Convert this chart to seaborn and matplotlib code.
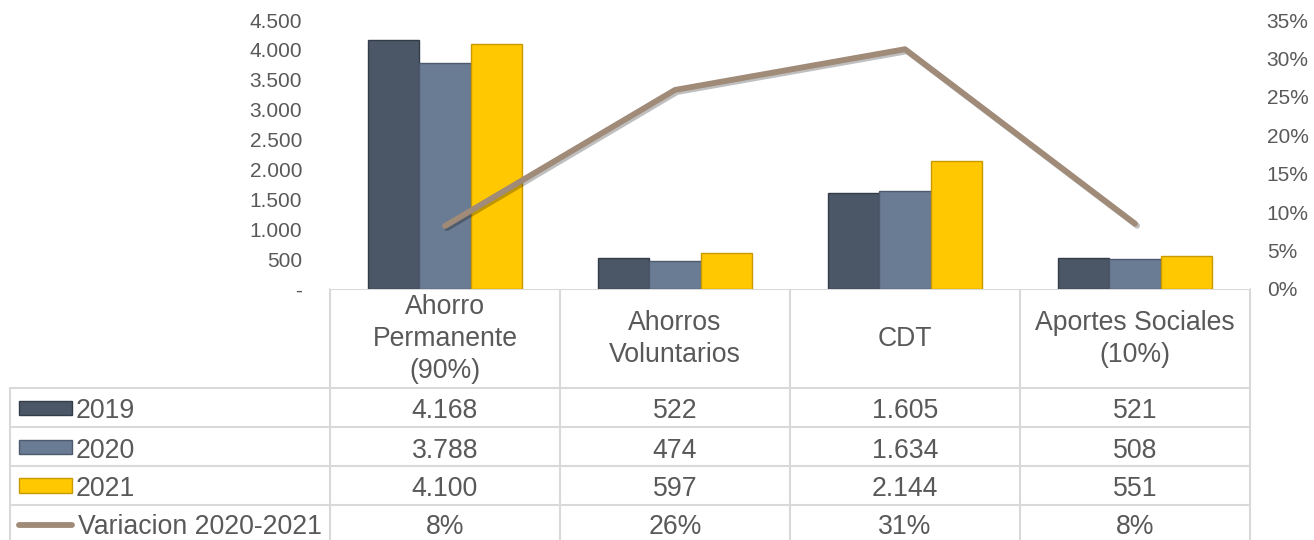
import numpy as np
import pandas as pd
import matplotlib
matplotlib.use("Agg")
import matplotlib.pyplot as plt
import matplotlib.patheffects as pe
from matplotlib.lines import Line2D
from matplotlib.patches import Rectangle
from matplotlib.ticker import FuncFormatter
import seaborn as sns

# ---- data ----
categories = ["Ahorro\nPermanente\n(90%)", "Ahorros\nVoluntarios", "CDT", "Aportes Sociales\n(10%)"]
years = ["2019", "2020", "2021"]
v2019 = [4168, 522, 1605, 521]
v2020 = [3788, 474, 1634, 508]
v2021 = [4100, 597, 2144, 551]
variation = [0.082, 0.259, 0.312, 0.085]
variation_labels = ["8%", "26%", "31%", "8%"]
variation_name = "Variacion 2020-2021"
left_ticks = [0, 500, 1000, 1500, 2000, 2500, 3000, 3500, 4000, 4500]
right_ticks = [0, 0.05, 0.10, 0.15, 0.20, 0.25, 0.30, 0.35]

colors = {"2019": "#4b5767", "2020": "#6a7b94", "2021": "#ffc800"}
edge_colors = {"2019": "#333c48", "2020": "#4d5a6d", "2021": "#c99a00"}
line_color = "#a08a78"
text_color = "#595959"
grid_color = "#d9d9d9"

sns.set_style("white")
plt.rcParams["font.family"] = ["Liberation Sans", "DejaVu Sans"]

W, H = 1314, 540
fig = plt.figure(figsize=(W / 100, H / 100), dpi=100)

def fx(x):
    return x / W

def fy(y):
    return 1 - y / H

# plot area in pixels
PL, PR, PT, PB = 330, 1250, 20, 289
ax = fig.add_axes([fx(PL), fy(PB), fx(PR) - fx(PL), fy(PT) - fy(PB)])

df = pd.DataFrame({
    "cat": categories * 3,
    "year": [y for y in years for _ in categories],
    "value": v2019 + v2020 + v2021,
})
sns.barplot(data=df, x="cat", y="value", hue="year", hue_order=years,
            palette=colors, width=0.67, ax=ax, legend=False, saturation=1)
for year, container in zip(years, ax.containers):
    for bar in container:
        bar.set_edgecolor(edge_colors[year])
        bar.set_linewidth(1.0)

ax.set_xlim(-0.5, len(categories) - 0.5)
ax.set_ylim(0, 4500)
ax.set_yticks(left_ticks)
ax.yaxis.set_major_formatter(FuncFormatter(
    lambda v, p: "-" if v == 0 else f"{int(v):,}".replace(",", ".")))
ax.set_xticks([])
ax.set_xlabel("")
ax.set_ylabel("")
for s in ax.spines.values():
    s.set_visible(False)
ax.tick_params(axis="y", length=0, pad=20, labelsize=15, labelcolor=text_color)

ax2 = ax.twinx()
sns.lineplot(x=np.arange(len(categories)), y=variation, ax=ax2, color=line_color,
             linewidth=4.2, solid_capstyle="round",
             path_effects=[pe.SimpleLineShadow(offset=(1.5, -1.5), alpha=0.25), pe.Normal()])
ax2.set_ylim(0, 0.35)
ax2.set_yticks(right_ticks)
ax2.yaxis.set_major_formatter(FuncFormatter(lambda v, p: f"{round(v * 100):d}%"))
ax2.set_xlim(-0.5, len(categories) - 0.5)
for s in ax2.spines.values():
    s.set_visible(False)
ax2.tick_params(axis="y", length=0, pad=12, labelsize=15, labelcolor=text_color)
ax2.set_ylabel("")

# ---- data table ----
col_x = [330, 560, 790, 1020, 1250]
row_y = [289, 388, 427, 466, 505, 544]
TL = 10

def hline(x0, x1, y):
    fig.add_artist(Line2D([fx(x0), fx(x1)], [fy(y), fy(y)], transform=fig.transFigure,
                          color=grid_color, linewidth=1.5, zorder=0))

def vline(x, y0, y1):
    fig.add_artist(Line2D([fx(x), fx(x)], [fy(y0), fy(y1)], transform=fig.transFigure,
                          color=grid_color, linewidth=1.5, zorder=0))

hline(col_x[0], col_x[-1], row_y[0])
for y in row_y[1:]:
    hline(TL, col_x[-1], y)
for x in col_x:
    vline(x, row_y[0], row_y[-1])
vline(TL, row_y[1], row_y[-1])

fs = 19.2
for i, cat in enumerate(categories):
    cx = (col_x[i] + col_x[i + 1]) / 2
    cy = (row_y[0] + row_y[1]) / 2
    fig.text(fx(cx), fy(cy + 1), cat, ha="center", va="center", fontsize=fs,
             color=text_color, linespacing=1.3)

row_values = [v2019, v2020, v2021]
for r, (year, vals) in enumerate(zip(years, row_values)):
    cy = (row_y[r + 1] + row_y[r + 2]) / 2
    fig.add_artist(Rectangle((fx(19), fy(cy + 7)), fx(72) - fx(19), fy(cy - 7) - fy(cy + 7),
                             transform=fig.transFigure, facecolor=colors[year],
                             edgecolor=edge_colors[year], linewidth=1.0))
    fig.text(fx(76), fy(cy + 1), year, ha="left", va="center_baseline", fontsize=fs, color=text_color)
    for i, v in enumerate(vals):
        cx = (col_x[i] + col_x[i + 1]) / 2
        fig.text(fx(cx), fy(cy + 1), f"{v:,}".replace(",", "."), ha="center",
                 va="center_baseline", fontsize=fs, color=text_color)

cy = (row_y[4] + row_y[5]) / 2
fig.add_artist(Line2D([fx(19), fx(72)], [fy(cy), fy(cy)], transform=fig.transFigure,
                      color=line_color, linewidth=4.2, solid_capstyle="round"))
fig.text(fx(78), fy(cy), variation_name, ha="left", va="center_baseline", fontsize=fs, color=text_color)
for i, lab in enumerate(variation_labels):
    cx = (col_x[i] + col_x[i + 1]) / 2
    fig.text(fx(cx), fy(cy), lab, ha="center", va="center_baseline", fontsize=fs, color=text_color)

fig.savefig("out.png", dpi=100)
